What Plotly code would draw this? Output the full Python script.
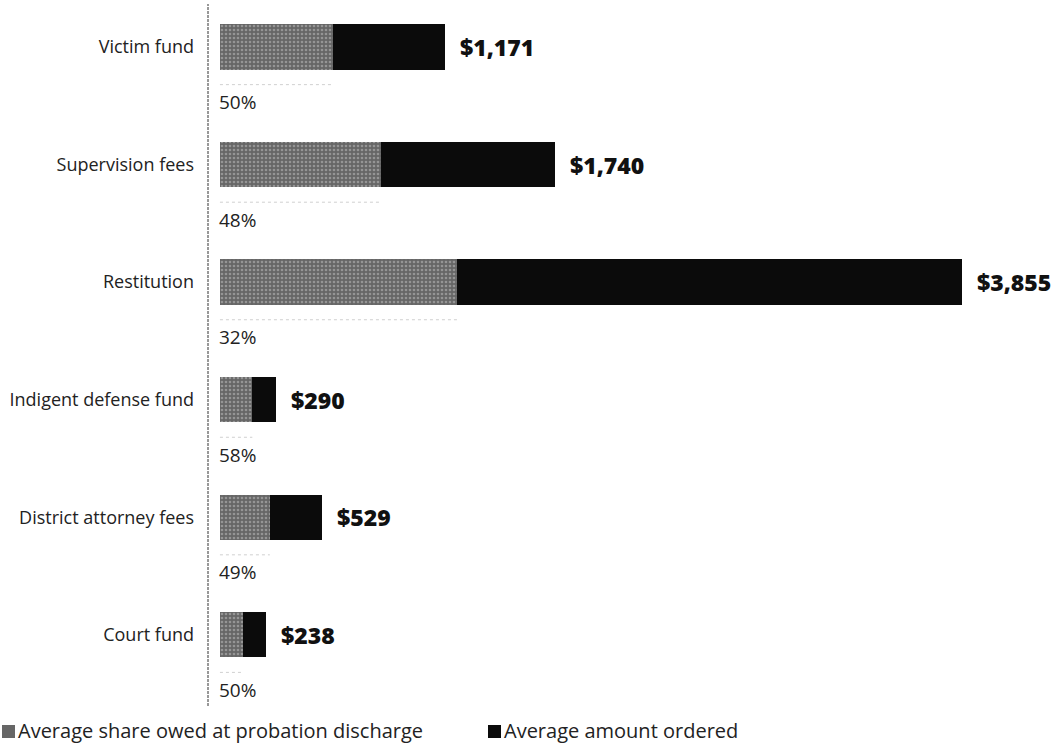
import plotly.graph_objects as go

categories = ["Victim fund", "Supervision fees", "Restitution",
              "Indigent defense fund", "District attorney fees", "Court fund"]
amount_ordered = [1171, 1740, 3855, 290, 529, 238]
share_owed_pct = [50, 48, 32, 58, 49, 50]
value_labels = ["$1,171", "$1,740", "$3,855", "$290", "$529", "$238"]
pct_labels = ["50%", "48%", "32%", "58%", "49%", "50%"]
legend_labels = ["Average share owed at probation discharge", "Average amount ordered"]

W, H = 1059, 744
ML, MR, MT, MB = 208, 0, 0, 34
PW, PH = W - ML - MR, H - MT - MB

ypos = list(range(len(categories)))
owed = [a * p / 100 for a, p in zip(amount_ordered, share_owed_pct)]

FONT = "Open Sans"
BLACK = "#0b0b0b"
GREY = "#666666"

fig = go.Figure()

# full amount ordered (black)
fig.add_trace(go.Bar(
    x=amount_ordered, y=ypos, orientation="h", width=0.385,
    marker=dict(color=BLACK, line=dict(width=0)),
    showlegend=False, hoverinfo="skip"))

# share still owed at discharge (grainy grey overlay)
fig.add_trace(go.Bar(
    x=owed, y=ypos, orientation="h", width=0.385,
    marker=dict(color=GREY, line=dict(width=0),
                pattern=dict(shape=".", fgcolor="#959595", bgcolor=GREY,
                             size=4, solidity=0.35, fillmode="replace")),
    showlegend=False, hoverinfo="skip"))

# faint dotted guide under the owed portion
for y, o in zip(ypos, owed):
    fig.add_trace(go.Scatter(
        x=[0, o], y=[y + 0.32, y + 0.32], mode="lines",
        line=dict(color="#d0d0d0", width=1, dash="dot"),
        showlegend=False, hoverinfo="skip"))

annotations = []
for y, a, lab, pl in zip(ypos, amount_ordered, value_labels, pct_labels):
    annotations.append(dict(
        x=a, y=y, xref="x", yref="y", text=lab, showarrow=False,
        xanchor="left", yanchor="middle", xshift=13,
        font=dict(family=FONT, size=23, color="#111", weight=800)))
    annotations.append(dict(
        x=0, y=y + 0.47, xref="x", yref="y", text=pl, showarrow=False,
        xanchor="left", yanchor="middle", xshift=-3,
        font=dict(family=FONT, size=19, color="#222")))

# legend drawn beneath the chart
def px_to_paper_x(px):
    return (px - ML) / PW

def px_to_paper_y(py):
    return (MT + PH - py) / PH

legend_items = [(2, GREY, legend_labels[0]), (488, BLACK, legend_labels[1])]
shapes = []
for lx, col, txt in legend_items:
    shapes.append(dict(
        type="rect", xref="paper", yref="paper",
        x0=px_to_paper_x(lx), x1=px_to_paper_x(lx + 13),
        y0=px_to_paper_y(738), y1=px_to_paper_y(725),
        fillcolor=col, line=dict(width=0)))
    annotations.append(dict(
        x=px_to_paper_x(lx + 15), y=px_to_paper_y(730), xref="paper", yref="paper",
        text=txt, showarrow=False, xanchor="left", yanchor="middle", borderpad=0,
        font=dict(family=FONT, size=20, color="#222")))

# vertical axis rule
shapes.append(dict(type="line", xref="paper", yref="paper",
                   x0=0, x1=0, y0=px_to_paper_y(706), y1=px_to_paper_y(4),
                   line=dict(color="#333", width=1, dash="3px,1px")))

fig.update_layout(
    width=W, height=H,
    margin=dict(l=ML, r=MR, t=MT, b=MB),
    paper_bgcolor="white", plot_bgcolor="white",
    barmode="overlay", bargap=0,
    xaxis=dict(range=[-62, -62 + PW / 0.1925], visible=False, fixedrange=True),
    yaxis=dict(range=[5.64, -0.4], tickvals=ypos, ticktext=categories,
               showgrid=False, zeroline=False, showline=False, ticks="",
               ticklabelstandoff=13,
               tickfont=dict(family=FONT, size=18, color="#222")),
    shapes=shapes, annotations=annotations,
    showlegend=False,
)

fig.write_html("out.html")
